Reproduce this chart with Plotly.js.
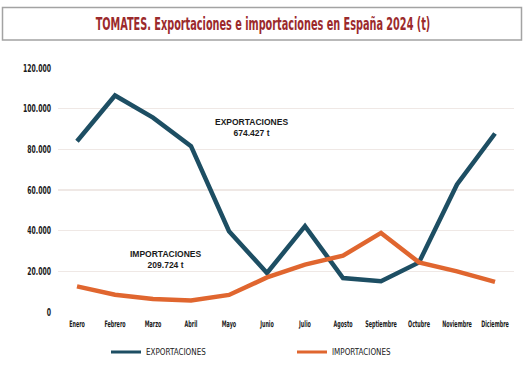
<!DOCTYPE html>
<html>
<head>
<meta charset="utf-8">
<script src="https://cdn.plot.ly/plotly-3.0.1.min.js"></script>
<style>html,body{margin:0;padding:0;background:#fff;}#chart{width:526px;height:382px;}</style>
</head>
<body>
<div id="chart"></div>
<script>
const months = ["Enero","Febrero","Marzo","Abril","Mayo","Junio","Julio","Agosto","Septiembre","Octubre","Noviembre","Diciembre"];
const exportaciones = [84000,106500,95600,81600,39700,19200,42200,16700,15100,24400,62700,87800];
const importaciones = [12600,8500,6400,5700,8400,17000,23300,27700,38900,24400,20000,14800];
const yTickVals = [0,20000,40000,60000,80000,100000,120000];
const yTickText = ["0","20.000","40.000","60.000","80.000","100.000","120.000"];
const titleText = "TOMATES. Exportaciones e importaciones en España 2024 (t)";
const expLabel = "EXPORTACIONES<br>674.427 t";
const impLabel = "IMPORTACIONES<br>209.724 t";

const W = 526, H = 382;
const M = {l:58, r:12, t:68, b:70};
const pw = W - M.l - M.r, ph = H - M.t - M.b;
const px = x => (x - M.l) / pw;
const py = y => (H - M.b - y) / ph;

const narrow = "DejaVu Sans Condensed, Liberation Sans Narrow, sans-serif";

const traces = [
  {x: months, y: exportaciones, type: "scatter", mode: "lines", name: "EXPORTACIONES",
   line: {color: "#1d4e63", width: 4.5}},
  {x: months, y: importaciones, type: "scatter", mode: "lines", name: "IMPORTACIONES",
   line: {color: "#e0662f", width: 4.5}}
];

const layout = {
  width: W, height: H,
  margin: M,
  paper_bgcolor: "#ffffff",
  plot_bgcolor: "#ffffff",
  title: {text: titleText, x: 0.5, xref: "container", xanchor: "center",
          y: 1 - 24/H, yref: "container", yanchor: "middle",
          font: {family: narrow, size: 18, color: "#9b2a2c", weight: "bold"}},
  xaxis: {type: "category", range: [-0.5, 11.5], showgrid: false, zeroline: false,
          showline: false, ticks: "", fixedrange: true, tickangle: 0, ticklabelstandoff: 5,
          tickfont: {family: narrow, size: 9, color: "#1a1a1a", weight: "bold"}},
  yaxis: {range: [0, 120000], tickvals: yTickVals, ticktext: yTickText,
          showgrid: true, gridcolor: "#efe8e5", gridwidth: 1.2, zeroline: false,
          showline: false, ticks: "", ticklen: 0, fixedrange: true, ticklabelstandoff: 6,
          tickfont: {family: narrow, size: 10, color: "#1a1a1a", weight: "bold"}},
  showlegend: true,
  legend: {orientation: "h", x: px(106), xanchor: "left", y: py(352), yanchor: "middle",
           entrywidth: 141, entrywidthmode: "pixels", itemwidth: 30,
           font: {family: narrow, size: 8, color: "#222"}, bgcolor: "rgba(0,0,0,0)"},
  shapes: [
    {type: "rect", xref: "paper", yref: "paper", x0: px(2.5), x1: px(521.5), y0: py(7.5), y1: py(40),
     line: {color: "#a3a3a3", width: 1.5}, fillcolor: "rgba(0,0,0,0)", layer: "above"}
  ],
  annotations: [
    {text: expLabel, x: 4.6, y: 90500, xref: "x", yref: "y", showarrow: false,
     font: {family: "Liberation Sans, Arial, sans-serif", size: 8.5, color: "#1a1a1a", weight: "bold"}, align: "center"},
    {text: impLabel, x: 2.34, y: 25600, xref: "x", yref: "y", showarrow: false,
     font: {family: "Liberation Sans, Arial, sans-serif", size: 8.5, color: "#1a1a1a", weight: "bold"}, align: "center"}
  ]
};

// horizontally condense text around its anchor point (the original uses a condensed typeface)
function squeeze(nodes, factor) {
  nodes.forEach(t => {
    const cx = parseFloat(t.getAttribute("x") || "0");
    const prev = t.getAttribute("transform") || "";
    t.setAttribute("transform",
      (prev + ` translate(${cx},0) scale(${factor.toFixed(4)},1) translate(${-cx},0)`).trim());
  });
}

Plotly.newPlot("chart", traces, layout, {displayModeBar: false, staticPlot: true}).then(gd => {
  const title = gd.querySelector(".gtitle");
  if (title) squeeze([title], 335 / title.getComputedTextLength());
  const xt = Array.from(gd.querySelectorAll(".xtick text"));
  const sep = xt.find(t => t.textContent === "Septiembre");
  if (sep) squeeze(xt, Math.min(1, 31.7 / sep.getComputedTextLength()));
  const yt = Array.from(gd.querySelectorAll(".ytick text"));
  const top = yt.find(t => t.textContent === "120.000");
  if (top) squeeze(yt, Math.min(1, 28 / top.getComputedTextLength()));
  gd.querySelectorAll(".legend .js-line").forEach(l => l.style.strokeWidth = "3px");
});
</script>
</body>
</html>
